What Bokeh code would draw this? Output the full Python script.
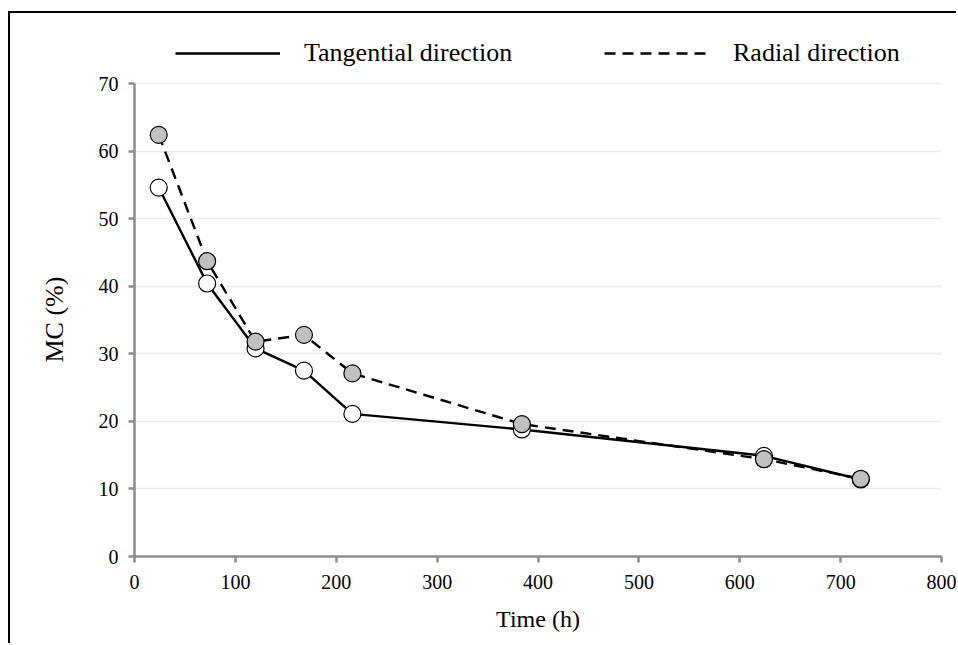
from bokeh.plotting import figure
from bokeh.models import Legend, LegendItem, ColumnDataSource, Title
from bokeh.embed import file_html
from bokeh.resources import INLINE

time_h = [24, 72, 120, 168, 216, 384, 624, 720]
tangential = [54.6, 40.4, 30.8, 27.5, 21.1, 18.8, 14.9, 11.4]
radial = [62.4, 43.7, 31.8, 32.8, 27.1, 19.6, 14.4, 11.5]
x_ticks = [0, 100, 200, 300, 400, 500, 600, 700, 800]
y_ticks = [0, 10, 20, 30, 40, 50, 60, 70]

FONT = "Liberation Serif"

# extra headroom above 70 holds the legend (axis itself is bounded to 0-70)
p = figure(width=948, height=632, x_range=(0, 800), y_range=(0, 78.88),
           output_backend="svg", toolbar_location=None,
           min_border_left=124, min_border_right=17, min_border_top=10, min_border_bottom=89)
p.styles = {"margin-left": "8px", "margin-top": "11px",
            "border-top": "2px solid black", "border-left": "2px solid black"}
p.outline_line_color = None
p.background_fill_color = "white"

src = ColumnDataSource(dict(t=time_h, tan=tangential, rad=radial))

l1 = p.line("t", "tan", source=src, line_color="black", line_width=2.4)
p.scatter("t", "tan", source=src, size=17, fill_color="white", line_color="black", line_width=1.2)
l2 = p.line("t", "rad", source=src, line_color="black", line_width=2.4, line_dash="11 7")
p.scatter("t", "rad", source=src, size=17, fill_color="#c0c0c0", line_color="black", line_width=1.2)

for ax in (p.xaxis[0], p.yaxis[0]):
    ax.axis_line_color = "#8c8c8c"
    ax.axis_line_width = 2.5
    ax.major_tick_line_color = "#8c8c8c"
    ax.major_tick_line_width = 2.5
    ax.major_tick_out = 6
    ax.major_tick_in = 0
    ax.minor_tick_line_color = None
    ax.major_label_text_font = FONT
    ax.major_label_text_font_size = "20px"
    ax.major_label_text_color = "black"
    ax.axis_label_text_font = FONT
    ax.axis_label_text_font_style = "normal"
    ax.axis_label_text_color = "black"

p.xaxis.ticker = x_ticks
p.yaxis.ticker = y_ticks
p.yaxis.bounds = (0, 70)
p.xaxis.axis_label = "Time (h)"
p.xaxis.axis_label_text_font_size = "24px"
p.xaxis.major_label_standoff = 12
p.yaxis.major_label_standoff = 10
p.xaxis.axis_label_standoff = 14

# y-axis title centred on the 0-70 span
ytitle = Title(text="MC (%)", align="left", offset=194, standoff=54,
               text_font=FONT, text_font_size="26px", text_font_style="normal",
               text_color="black")
p.add_layout(ytitle, "left")

p.xgrid.grid_line_color = None
p.ygrid.grid_line_color = "#ebebeb"
p.ygrid.grid_line_width = 1.5

legend = Legend(items=[LegendItem(label="Tangential direction", renderers=[l1]),
                       LegendItem(label="Radial direction", renderers=[l2])],
                orientation="horizontal", location=(41, 488),
                glyph_width=105, glyph_height=20, label_standoff=24, spacing=70,
                label_width=230,
                padding=0, margin=0, border_line_color=None, background_fill_alpha=0,
                label_text_font=FONT, label_text_font_size="26px", label_text_color="black")
p.add_layout(legend, "center")

open("out.html", "w").write(file_html(p, INLINE))
